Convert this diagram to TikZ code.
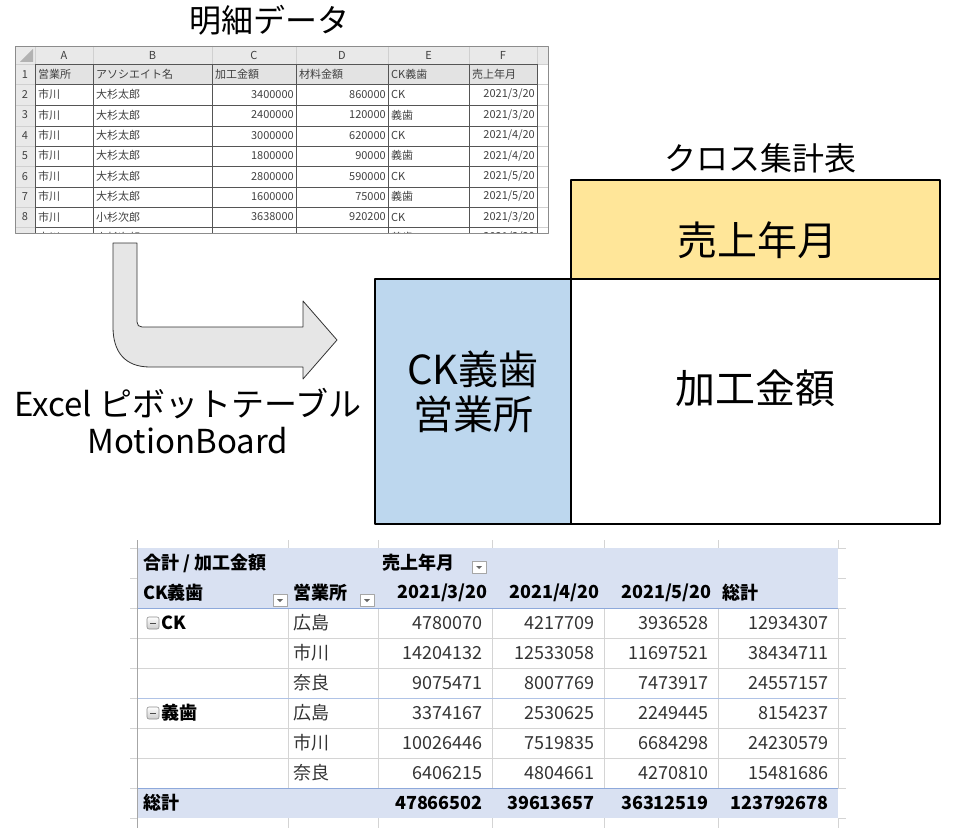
\documentclass[tikz,border=0pt]{standalone}
\usepackage{fontspec}
\setmainfont{Noto Sans CJK JP}
\usetikzlibrary{positioning}

\definecolor{sheetgrey}{HTML}{E9E9E9}
\definecolor{headgrey}{HTML}{E3E3E3}
\definecolor{gridlight}{HTML}{D0D0D0}
\definecolor{griddark}{HTML}{555555}
\definecolor{pivotshade}{HTML}{D9E1F2}
\definecolor{pivotline}{HTML}{8EA9DB}
\definecolor{pivotgrid}{HTML}{D4D4D4}
\definecolor{crossyellow}{HTML}{FFE699}
\definecolor{crossblue}{HTML}{BDD7EE}
\definecolor{arrowfill}{HTML}{E6E6E6}

\tikzset{
  sheettext/.style={inner sep=0pt, font=\fontsize{11}{11}\selectfont, text=black!75},
  pivottext/.style={inner sep=0pt, font=\fontsize{18}{18}\selectfont, text=black!80},
  pivotbold/.style={inner sep=0pt, font=\fontsize{18}{18}\selectfont\bfseries, text=black},
  titletext/.style={inner sep=0pt, font=\fontsize{32}{32}\selectfont},
  bigtext/.style={inner sep=0pt, align=center, font=\fontsize{40}{45}\selectfont},
  crossbox/.style={draw=black, line width=2.2pt},
  dropbtn/.style={draw=black!35, fill=white, line width=0.6pt},
}

\begin{document}
\begin{tikzpicture}[x=1pt, y=-1pt, line join=round]
\useasboundingbox (0,0) rectangle (966,837);

% top: detail sheet
\node[titletext] (title-sheet) at (269,20) {明細データ};
\begin{scope}
\clip (15,46) rectangle (548,233);
\fill[sheetgrey] (15,46) rectangle (548,64);
\fill[sheetgrey] (15,64) rectangle (35,233);
\fill[headgrey] (35,64) rectangle (537,84);
\fill[black!30] (33,49) -- (33,62) -- (20,62) -- cycle;
\foreach \x in {35,93,212,296,388,469,537}
  \draw[gridlight, line width=0.8pt] (\x,46) -- (\x,64);
\foreach \y in {64,84,105,126,146,166,187,207,227}
  \draw[gridlight, line width=0.8pt] (15,\y) -- (35,\y) (537,\y) -- (548,\y);
\foreach \y in {64,84,105,126,146,166,187,207,227}
  \draw[griddark, line width=0.7pt] (35,\y) -- (537,\y);
\foreach \x in {35,93,212,296,388,469,537}
  \draw[griddark, line width=0.7pt] (\x,64) -- (\x,233);
% column letters
\foreach \c/\x in {A/64,B/152.5,C/254,D/342,E/428.5,F/503}
  \node[sheettext] (col-\c) at (\x,55.5) {\c};
% row numbers
\foreach \r in {1,...,9}
  \node[sheettext] (row-\r) at (25,{74.2+(\r-1)*20.4}) {\r};
% header row
\node[sheettext, anchor=west] (h-a) at (38,74.2) {営業所};
\node[sheettext, anchor=west] (h-b) at (96,74.2) {アソシエイト名};
\node[sheettext, anchor=west] (h-c) at (215,74.2) {加工金額};
\node[sheettext, anchor=west] (h-d) at (299,74.2) {材料金額};
\node[sheettext, anchor=west] (h-e) at (391,74.2) {CK義歯};
\node[sheettext, anchor=west] (h-f) at (472,74.2) {売上年月};
% data rows
\foreach \r/\b/\c/\d/\e/\m in {2/大杉太郎/3400000/860000/CK/3, 3/大杉太郎/2400000/120000/義歯/3,
    4/大杉太郎/3000000/620000/CK/4, 5/大杉太郎/1800000/90000/義歯/4, 6/大杉太郎/2800000/590000/CK/5,
    7/大杉太郎/1600000/75000/義歯/5, 8/小杉次郎/3638000/920200/CK/3, 9/小杉次郎/2500000/180400/義歯/3} {
  \node[sheettext, anchor=west] (d\r-a) at (38,{74.2+(\r-1)*20.4}) {市川};
  \node[sheettext, anchor=west] (d\r-b) at (96,{74.2+(\r-1)*20.4}) {\b};
  \node[sheettext, anchor=east] (d\r-c) at (294,{74.2+(\r-1)*20.4}) {\c};
  \node[sheettext, anchor=east] (d\r-d) at (386,{74.2+(\r-1)*20.4}) {\d};
  \node[sheettext, anchor=west] (d\r-e) at (391,{74.2+(\r-1)*20.4}) {\e};
  \node[sheettext, anchor=east] (d\r-f) at (535,{74.2+(\r-1)*20.4}) {2021/\m/20};
}
\end{scope}
\draw[black!45, line width=0.8pt] (15,46) rectangle (548,233);

% bent arrow
\draw[fill=arrowfill, draw=black!80, line width=0.8pt]
  (113,243) -- (113,327) .. controls (113,352) and (125,367) .. (150,367)
  -- (303,367) -- (303,379) -- (337,340) -- (303,301) -- (303,327)
  -- (142,327) .. controls (139,327) and (137,325) .. (137,322) -- (137,243) -- cycle;
\node[inner sep=0pt, align=center, font=\fontsize{33}{37}\selectfont] (tools) at (188,421)
  {Excel ピボットテーブル\\MotionBoard};

% right: cross table
\node[titletext] (title-cross) at (760,158) {クロス集計表};
\fill[crossyellow] (571,180) rectangle (940,279);
\fill[crossblue] (375,279) rectangle (571,524);
\draw[crossbox] (571,180) rectangle (940,279);
\draw[crossbox] (375,279) rectangle (571,524);
\draw[crossbox] (571,279) rectangle (940,524);
\node[bigtext] (cross-col) at (757,240) {売上年月};
\node[bigtext] (cross-row) at (473,392) {CK義歯\\営業所};
\node[bigtext] (cross-val) at (755,388) {加工金額};

% bottom: pivot table
\fill[pivotshade] (138,548) rectangle (838,608);
\fill[pivotshade] (138,788) rectangle (838,818);
\foreach \y in {638,668,728,758}
  \draw[pivotgrid, line width=0.8pt] (138,\y) -- (838,\y);
\foreach \x in {288,378,492,604,718,838}
  \draw[pivotgrid, line width=0.8pt] (\x,608) -- (\x,788) (\x,540) -- (\x,548) (\x,818) -- (\x,828);
\foreach \y in {548,578,608,638,668,698,728,758,788,818}
  \draw[pivotgrid, line width=0.8pt] (130,\y) -- (137,\y) (838,\y) -- (846,\y);
\draw[black!35, line width=0.8pt] (137,540) -- (137,828);
\draw[pivotline!70, line width=0.8pt] (138,698) -- (838,698);
\draw[pivotline, line width=0.8pt] (138,608) -- (838,608) (138,788) -- (838,788);
% header rows
\node[pivotbold, anchor=west] (p-sum) at (143,563) {合計 / 加工金額};
\node[pivotbold, anchor=west] (p-month) at (382,563) {売上年月};
\node[pivotbold, anchor=west] (p-ck) at (143,593) {CK義歯};
\node[pivotbold, anchor=west] (p-office) at (293,593) {営業所};
\node[pivotbold, anchor=east] (p-m3) at (488,593) {2021/3/20};
\node[pivotbold, anchor=east] (p-m4) at (600,593) {2021/4/20};
\node[pivotbold, anchor=east] (p-m5) at (712,593) {2021/5/20};
\node[pivotbold, anchor=west] (p-total) at (722,593) {総計};
\foreach \bx/\by in {472/561,273/594,360/594} {
  \draw[dropbtn] (\bx,\by) rectangle ++(14,12);
  \fill[black!60] (\bx+4,\by+5) -- (\bx+10,\by+5) -- (\bx+7,\by+8) -- cycle;
}
% group labels
\foreach \gy/\g in {623/CK,713/義歯} {
  \draw[black!45, line width=0.6pt, top color=white, bottom color=black!20, rounded corners=2pt]
    (147,\gy-6) rectangle (159,\gy+6);
  \draw[black!70, line width=0.9pt] (150,\gy) -- (156,\gy);
  \node[pivotbold, anchor=west] (g-\g) at (161,\gy) {\g};
}
% data rows
\foreach \y/\o/\a/\b/\c/\t in {623/広島/4780070/4217709/3936528/12934307,
    653/市川/14204132/12533058/11697521/38434711, 683/奈良/9075471/8007769/7473917/24557157,
    713/広島/3374167/2530625/2249445/8154237, 743/市川/10026446/7519835/6684298/24230579,
    773/奈良/6406215/4804661/4270810/15481686} {
  \node[pivottext, anchor=west] (o-\y) at (293,\y) {\o};
  \node[pivottext, anchor=east] (a-\y) at (483,\y) {\a};
  \node[pivottext, anchor=east] (b-\y) at (595,\y) {\b};
  \node[pivottext, anchor=east] (c-\y) at (709,\y) {\c};
  \node[pivottext, anchor=east] (t-\y) at (829,\y) {\t};
}
% grand total
\node[pivotbold, anchor=west] (s-label) at (143,803) {総計};
\node[pivotbold, anchor=east] (s-a) at (483,803) {47866502};
\node[pivotbold, anchor=east] (s-b) at (595,803) {39613657};
\node[pivotbold, anchor=east] (s-c) at (709,803) {36312519};
\node[pivotbold, anchor=east] (s-t) at (829,803) {123792678};
\end{tikzpicture}
\end{document}
